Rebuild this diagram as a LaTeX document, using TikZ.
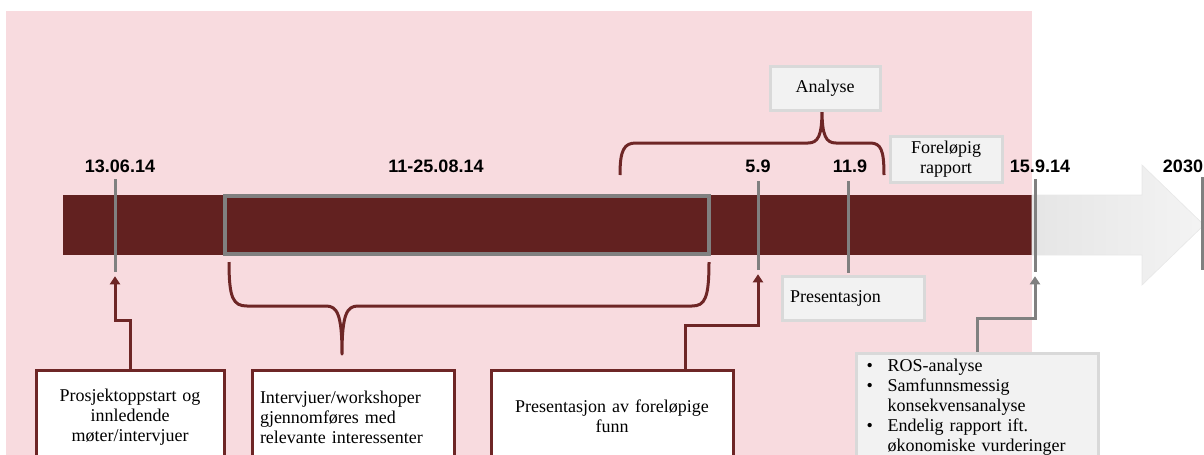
\documentclass[tikz,border=0pt]{standalone}
\usepackage{fontspec}
\setmainfont{Liberation Serif}
\setsansfont{Liberation Sans}
\usetikzlibrary{arrows.meta}
\definecolor{bgpink}{RGB}{248,219,223}
\definecolor{barred}{RGB}{98,33,32}
\definecolor{linered}{RGB}{110,38,38}
\definecolor{tickgray}{RGB}{128,128,128}
\definecolor{boxgray}{RGB}{242,242,242}
\definecolor{edgegray}{RGB}{217,217,217}

\begin{document}
\begin{tikzpicture}[x=0.75pt,y=-0.75pt,
    datelbl/.style={font=\sffamily\bfseries\fontsize{13.5}{15}\selectfont, anchor=base},
    tick/.style={fill=tickgray, inner sep=0pt, minimum width=2.25pt},
    redbox/.style={draw=linered, line width=2.25pt, fill=white, inner xsep=6pt,
      font=\fontsize{13.5}{15}\selectfont},
    graybox/.style={draw=edgegray, line width=2.25pt, fill=boxgray, inner xsep=6pt,
      font=\fontsize{13.5}{15}\selectfont},
    brace/.style={draw=linered, line width=2.25pt, line join=round},
    redarrow/.style={draw=linered, line width=2.25pt,
      -{Triangle[width=7.5pt,length=6pt]}, shorten >=3pt},
    grayarrow/.style={redarrow, draw=tickgray}]
  \useasboundingbox (0,0) rectangle (1204,454);
  \clip (0,0) rectangle (1204,454);

  % background and timeline
  \fill[bgpink] (6,11) rectangle (1032,460);
  \fill[barred] (63,195) rectangle (1032,255);
  \shade[left color=gray!20, right color=gray!9, draw=gray!18, line width=0.5pt]
    (1032,195) -- (1142,195) -- (1142,165) -- (1204,225) -- (1142,285)
    -- (1142,255) -- (1032,255) -- cycle;
  \draw[tickgray, line width=2.5pt] (225,196) rectangle (709,254);

  % ticks
  \node[tick, minimum height=69.75pt] (t1) at (115,225.5) {};
  \node[tick, minimum height=66.75pt] (t2) at (758,225.5) {};
  \node[tick, minimum height=69pt] (t3) at (848,227) {};
  \node[tick, minimum height=69.75pt] (t4) at (1035,225.5) {};
  \node[tick, minimum height=69.75pt] (t5) at (1202,223.5) {};

  % dates
  \node[datelbl] (d1) at (120,172) {13.06.14};
  \node[datelbl] (d2) at (436,172) {11-25.08.14};
  \node[datelbl] (d3) at (758,172) {5.9};
  \node[datelbl] (d4) at (850,172) {11.9};
  \node[datelbl] (d5) at (1040,172) {15.9.14};
  \node[datelbl] (d6) at (1183,172) {2030};

  % braces
  \draw[brace] (620,175) .. controls (620,150) and (624,143) .. (636,143)
    -- (808,143) .. controls (818,143) and (822,136) .. (822,110)
    .. controls (822,136) and (826,143) .. (836,143)
    -- (870,143) .. controls (881,143) and (884,150) .. (884,175);
  \draw[brace] (229,262) .. controls (229,298) and (233,306) .. (247,306)
    -- (326,306) .. controls (337,306) and (342,314) .. (342,354)
    .. controls (342,314) and (347,306) .. (358,306)
    -- (692,306) .. controls (705,306) and (709,298) .. (709,262);

  % gray boxes
  \node[graybox, minimum width=82.5pt, minimum height=33pt] (ana) at (825,88) {Analyse};
  \node[graybox, minimum width=84pt, minimum height=34.5pt, align=center] (rap)
    at (946,159) {Foreløpig\\rapport};
  \node[graybox, text width=94.5pt, minimum height=33pt, align=left] (pres)
    at (853,298) {Presentasjon};

  % red boxes
  \node[redbox, text width=129pt, minimum height=70.5pt, align=center] (b1)
    at (130,417) {Prosjektoppstart og\\innledende\\møter/intervjuer};
  \node[redbox, text width=139.5pt, minimum height=70.5pt, align=left] (b2)
    at (353,417) {Intervjuer/workshoper\\gjennomføres med\\relevante interessenter};
  \node[redbox, text width=169.5pt, minimum height=69pt, align=center] (b3)
    at (612,416) {Presentasjon av foreløpige\\funn};
  \node[graybox, anchor=north, inner xsep=8pt, text width=165.5pt, align=left] (b4)
    at (977,352) {\begin{tabular}{@{}l@{\hspace{11pt}}l@{}}
      \textbullet & ROS-analyse\\
      \textbullet & Samfunnsmessig\\
       & konsekvensanalyse\\
      \textbullet & Endelig rapport ift.\\
       & økonomiske vurderinger
    \end{tabular}};

  % connectors
  \draw[redarrow] (b1.north) -- ++(0,-48) -| (t1.south);
  \draw[redarrow] ([xshift=54.75pt]b3.north) -- ++(0,-43) -| (t2.south);
  \draw[grayarrow] (b4.north) -- ++(0,-34) -| (t4.south);
\end{tikzpicture}
\end{document}
